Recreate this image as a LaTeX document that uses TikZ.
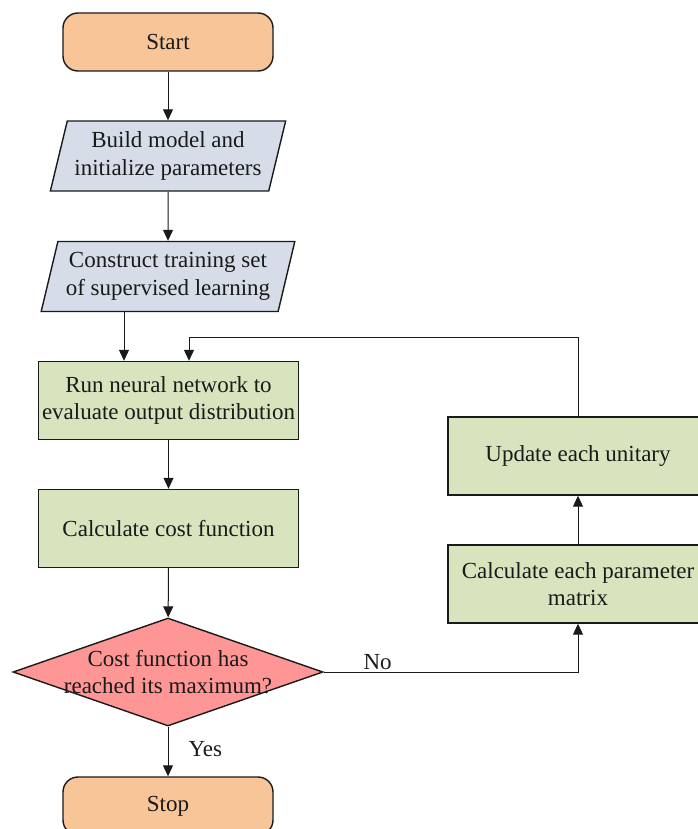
\documentclass[tikz,border=0pt]{standalone}
\usepackage{fontspec}
\setmainfont{Liberation Serif}
\usetikzlibrary{shapes.geometric,arrows.meta}
\definecolor{startc}{RGB}{248,197,153}
\definecolor{parac}{RGB}{214,221,232}
\definecolor{boxc}{RGB}{216,228,190}
\definecolor{decc}{RGB}{255,150,150}
\definecolor{ink}{RGB}{26,26,26}
\tikzset{
  base/.style={draw=ink, line width=1.4pt, text=ink, align=center, inner sep=0pt,
    font=\fontsize{23}{27.5}\selectfont},
  term/.style={base, fill=startc, rounded corners=15pt, minimum width=210pt, minimum height=58pt},
  io/.style={base, fill=parac, trapezium, trapezium left angle=72, trapezium right angle=108,
    trapezium stretches=true, minimum width=236pt, minimum height=70pt},
  proc/.style={base, fill=boxc, minimum width=260pt, minimum height=78pt},
  decision/.style={base, fill=decc, diamond, minimum width=310pt, minimum height=108pt},
  txt/.style={text=ink, align=center, inner sep=0pt, font=\fontsize{23}{27.5}\selectfont},
  arr/.style={draw=ink, line width=1pt, -{Triangle[length=11pt,width=10pt]}},
}
\begin{document}
\begin{tikzpicture}[x=1pt,y=-1pt]
\useasboundingbox (0,0) rectangle (697,829);
\fill[white] (0,0) rectangle (697,829);
\node[term] (start) at (168,42) {Start};
\node[io] (p1) at (168,156) {Build model and\\initialize parameters};
\node[io, minimum width=254pt] (p2) at (168,276.5) {Construct training set\\of supervised learning};
\node[proc] (b1) at (168.5,400.5) {Run neural network to\\evaluate output distribution};
\node[proc] (b2) at (168.5,528.5) {Calculate cost function};
\node[decision] (d) at (168,672) {};
\node[txt] (dt) at (d.center) {Cost function has\\reached its maximum?};
\node[term] (stop) at (168,806) {Stop};
\node[proc] (b4) at (578,584) {Calculate each parameter\\matrix};
\node[proc] (b3) at (578,456) {Update each unitary};
\coordinate (xa) at (124,0);
\coordinate (xb) at (189,337);
\draw[arr] (start) -- (p1);
\draw[arr] (p1) -- (p2);
\draw[arr] (p2.south -| xa) -- (b1.north -| xa);
\draw[arr] (b1) -- (b2);
\draw[arr] (b2) -- (d);
\draw[arr] (d) -- node[txt, right=20pt, pos=0.45] {Yes} (stop);
\draw[arr] (d.east) -| node[txt, above=2pt, pos=0.106] {No} (b4.south);
\draw[arr] (b4) -- (b3);
\draw[arr] (b3.north) |- (xb) -- (xb |- b1.north);
\end{tikzpicture}
\end{document}
